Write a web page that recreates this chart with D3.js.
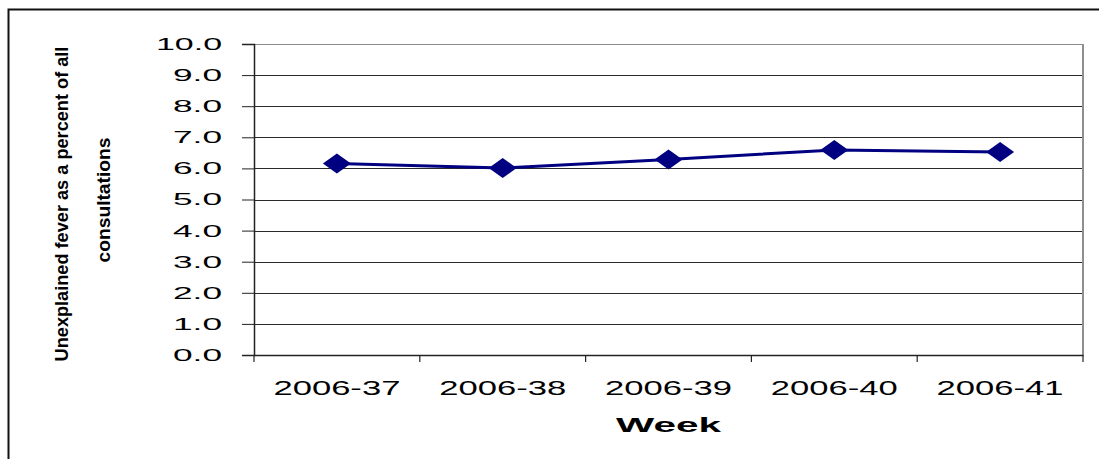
<!DOCTYPE html>
<html>
<head>
<meta charset="utf-8">
<script src="https://cdn.jsdelivr.net/npm/d3@7"></script>
<style>
  html, body { margin: 0; padding: 0; background: #fff; }
  svg { display: block; font-family: "Liberation Sans", Arial, sans-serif; }
</style>
</head>
<body>
<div id="chart"></div>
<script>
// --- Data ---
const weeks = ["2006-37", "2006-38", "2006-39", "2006-40", "2006-41"];
const feverPct = [6.16, 6.01, 6.29, 6.59, 6.53];
const yTicks = [0, 1, 2, 3, 4, 5, 6, 7, 8, 9, 10];
const yLabelLines = ["Unexplained fever as a percent of all", "consultations"];
const xTitle = "Week";

const totalWidth = 1099;
const totalHeight = 459;
const margin = { top: 44, right: 16, bottom: 104, left: 254 };
const width = totalWidth - margin.left - margin.right;   // plot width
const height = totalHeight - margin.top - margin.bottom; // plot height

const svg = d3.select("#chart")
  .append("svg")
  .attr("width", totalWidth)
  .attr("height", totalHeight);

// outer frame (runs off the right / bottom edge like the screenshot)
svg.append("rect")
  .attr("x", 8.5).attr("y", 9.5)
  .attr("width", totalWidth + 20).attr("height", totalHeight + 20)
  .attr("fill", "none")
  .attr("stroke", "#111")
  .attr("stroke-width", 2);

const g = svg.append("g").attr("transform", `translate(${margin.left},${margin.top})`);

// --- Scales ---
const x = d3.scaleBand().domain(weeks).range([0, width]).padding(0);
const y = d3.scaleLinear().domain([0, 10]).range([height, 0]);

// gridlines
g.append("g")
  .selectAll("line")
  .data(yTicks.filter((d) => d > 0 && d < 10))
  .join("line")
  .attr("x1", 0).attr("x2", width)
  .attr("y1", (d) => Math.round(y(d)) + 0.5)
  .attr("y2", (d) => Math.round(y(d)) + 0.5)
  .attr("stroke", "#2a2a2a")
  .attr("stroke-width", 1);

// plot frame: top + right in grey
g.append("line")
  .attr("x1", 0).attr("x2", width)
  .attr("y1", 0.5).attr("y2", 0.5)
  .attr("stroke", "#8a8a8a").attr("stroke-width", 1.2);
g.append("line")
  .attr("x1", width).attr("x2", width)
  .attr("y1", 0).attr("y2", height)
  .attr("stroke", "#8f8f8f").attr("stroke-width", 2);

// --- Y axis ---
const yAxis = g.append("g")
  .call(d3.axisLeft(y).tickValues(yTicks).tickFormat(d3.format(".1f")).tickSize(12).tickPadding(20));
yAxis.select(".domain").attr("stroke", "#222").attr("stroke-width", 1.5);
yAxis.selectAll(".tick line").attr("stroke", "#222");
yAxis.selectAll(".tick text")
  .attr("font-size", 17)
  .attr("fill", "#000")
  .attr("textLength", (d) => (d >= 10 ? 66 : 49))
  .attr("lengthAdjust", "spacingAndGlyphs");

// --- X axis ---
const xAxis = g.append("g")
  .attr("transform", `translate(0,${height})`)
  .call(d3.axisBottom(x).tickSize(0));
xAxis.select(".domain").attr("stroke", "#222").attr("stroke-width", 1.5);
xAxis.selectAll(".tick text")
  .attr("y", 40)
  .attr("dy", null)
  .attr("font-size", 21)
  .attr("fill", "#000")
  .attr("textLength", 127)
  .attr("lengthAdjust", "spacingAndGlyphs");

// category boundary ticks
const boundaries = weeks.map((w) => x(w)).concat([x(weeks[weeks.length - 1]) + x.bandwidth()]);
xAxis.append("g")
  .selectAll("line")
  .data(boundaries)
  .join("line")
  .attr("x1", (d) => d).attr("x2", (d) => d)
  .attr("y1", 0).attr("y2", 7)
  .attr("stroke", "#222")
  .attr("stroke-width", 1.2);

// x title
g.append("text")
  .attr("x", width / 2)
  .attr("y", height + 77)
  .attr("text-anchor", "middle")
  .attr("font-size", 21)
  .attr("font-weight", "bold")
  .attr("textLength", 105)
  .attr("lengthAdjust", "spacingAndGlyphs")
  .text(xTitle);

// y title: two squeezed lines, compressed with a scale so the box stays tight
const yLabelPos = [
  { bx: 68, cy: 204, len: 315 },
  { bx: 110, cy: 200, len: 125 },
];
svg.append("g")
  .selectAll("text")
  .data(yLabelLines)
  .join("text")
  .attr("text-anchor", "middle")
  .attr("font-size", 19)
  .attr("font-weight", "bold")
  .text((d) => d)
  .attr("transform", function (d, i) {
    const natural = this.getComputedTextLength();
    const s = yLabelPos[i].len / natural;
    return `translate(${yLabelPos[i].bx},${yLabelPos[i].cy}) rotate(-90) scale(${s},1)`;
  });

// --- Series line ---
const cx = (d, i) => x(weeks[i]) + x.bandwidth() / 2;
const line = d3.line()
  .x((d, i) => cx(d, i))
  .y((d) => y(d));

g.append("path")
  .datum(feverPct)
  .attr("fill", "none")
  .attr("stroke", "#000080")
  .attr("stroke-width", 3)
  .attr("d", line);

// diamond markers
const dw = 14, dh = 10;
g.append("g")
  .selectAll("path")
  .data(feverPct)
  .join("path")
  .attr("transform", (d, i) => `translate(${cx(d, i)},${y(d)})`)
  .attr("d", `M${-dw},0L0,${-dh}L${dw},0L0,${dh}Z`)
  .attr("fill", "#000080");
</script>
</body>
</html>
